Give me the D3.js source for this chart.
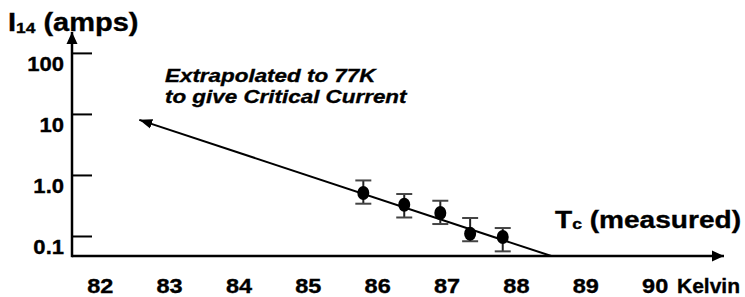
<!DOCTYPE html>
<html>
<head>
<meta charset="utf-8">
<script src="https://cdn.jsdelivr.net/npm/d3@7"></script>
<style>
  body { margin: 0; background: #fff; }
  svg text { font-family: "Liberation Sans", Arial, sans-serif; font-weight: bold; fill: #000;
             stroke: #000; stroke-width: 0.35px; }
</style>
</head>
<body>
<div id="chart"></div>
<script>
"use strict";

// == data ==
var temps     = [85.80, 86.39, 86.91, 87.34, 87.81];   // Kelvin
var currents  = [0.505, 0.325, 0.238, 0.109, 0.096];   // amps
var errLow    = [0.338, 0.201, 0.157, 0.082, 0.056];
var errHigh   = [0.813, 0.487, 0.378, 0.197, 0.135];
var fitTemps  = [82.57, 88.51];                          // extrapolated line ends
var fitAmps   = [8.0, 0.047];
var xTicks    = [82, 83, 84, 85, 86, 87, 88, 89, 90];
var yTicks    = [0.1, 1, 10, 100];
var yTickText = ["0.1", "1.0", "10", "100"];

var width = 745, height = 297;

var svg = d3.select("#chart")
            .append("svg")
            .attr("width", width)
            .attr("height", height);

// == scales ==
var xScale = d3.scaleLinear()
               .domain([81.6, 91])
               .range([72, 724]);

var yScale = d3.scaleLog()
               .domain([0.047, 220])
               .range([256, 32]);

// == arrow heads ==
var defs = svg.append("defs");
defs.append("marker")
    .attr("id", "arrow")
    .attr("viewBox", "0 0 12 12")
    .attr("refX", 12).attr("refY", 6)
    .attr("markerWidth", 12).attr("markerHeight", 12)
    .attr("markerUnits", "userSpaceOnUse")
    .attr("orient", "auto-start-reverse")
    .append("path")
    .attr("d", "M0,0.5 L12,6 L0,11.5 Z")
    .attr("fill", "#000");

defs.append("marker")
    .attr("id", "arrowSmall")
    .attr("viewBox", "0 0 12 12")
    .attr("refX", 12).attr("refY", 6)
    .attr("markerWidth", 13).attr("markerHeight", 13)
    .attr("markerUnits", "userSpaceOnUse")
    .attr("orient", "auto-start-reverse")
    .append("path")
    .attr("d", "M0,1.5 L12,6 L0,10.5 Z")
    .attr("fill", "#000");

var x0 = xScale.domain()[0], x1 = xScale.domain()[1];
var y0 = yScale.domain()[0], y1 = yScale.domain()[1];

// == axis lines with arrows ==
svg.append("line")
   .attr("x1", xScale(x0)).attr("y1", yScale(y0))
   .attr("x2", xScale(x1)).attr("y2", yScale(y0))
   .attr("stroke", "#000").attr("stroke-width", 2.5)
   .attr("marker-end", "url(#arrow)");

svg.append("line")
   .attr("x1", xScale(x0)).attr("y1", yScale(y0) + 1.2)
   .attr("x2", xScale(x0)).attr("y2", yScale(y1))
   .attr("stroke", "#000").attr("stroke-width", 2.5)
   .attr("marker-end", "url(#arrow)");

// == y tick marks ==
var yTickAxis = d3.axisRight(yScale)
                  .tickValues(yTicks)
                  .tickFormat("")
                  .tickSizeInner(20)
                  .tickSizeOuter(0);

var gTicks = svg.append("g")
   .attr("transform", "translate(" + xScale(x0) + ",0)")
   .call(yTickAxis);
gTicks.select(".domain").remove();
gTicks.selectAll("line").attr("stroke", "#000").attr("stroke-width", 2);

// == y labels (sit a little below their ticks) ==
var yLabelAxis = d3.axisLeft(yScale)
                   .tickValues(yTicks)
                   .tickFormat(function (d, i) { return yTickText[i]; })
                   .tickSize(0)
                   .tickPadding(8);

var gYLab = svg.append("g")
   .attr("transform", "translate(" + xScale(x0) + ",11)")
   .call(yLabelAxis);
gYLab.select(".domain").remove();
gYLab.selectAll("text")
     .attr("font-size", 21)
     .attr("font-family", null)
     .attr("x", -8 / 1.05)
     .attr("transform", "scale(1.05,1)");

// == x labels ==
var xLabelAxis = d3.axisBottom(xScale)
                   .tickValues(xTicks)
                   .tickFormat(d3.format("d"))
                   .tickSize(0)
                   .tickPadding(22);

var gXLab = svg.append("g")
   .attr("transform", "translate(0," + yScale(y0) + ")")
   .call(xLabelAxis);
gXLab.select(".domain").remove();
gXLab.selectAll("text")
     .attr("font-size", 21)
     .attr("font-family", null)
     .attr("transform", "scale(1.12,1)");

svg.append("text")
   .attr("x", 677).attr("y", 293)
   .attr("font-size", 21)
   .text("Kelvin");

// == extrapolated fit line ==
svg.append("line")
   .attr("x1", xScale(fitTemps[1])).attr("y1", yScale(fitAmps[1]))
   .attr("x2", xScale(fitTemps[0])).attr("y2", yScale(fitAmps[0]))
   .attr("stroke", "#000").attr("stroke-width", 2)
   .attr("marker-end", "url(#arrowSmall)");

// == error bars ==
var points = d3.range(temps.length);

var bars = svg.selectAll(".err")
   .data(points)
   .enter()
   .append("g")
   .attr("class", "err")
   .attr("stroke", "#222")
   .attr("stroke-width", 2);

bars.append("line")
   .attr("x1", function (i) { return xScale(temps[i]); })
   .attr("x2", function (i) { return xScale(temps[i]); })
   .attr("y1", function (i) { return yScale(errLow[i]); })
   .attr("y2", function (i) { return yScale(errHigh[i]); });

[errLow, errHigh].forEach(function (arr) {
  bars.append("line")
     .attr("x1", function (i) { return xScale(temps[i]) - 8; })
     .attr("x2", function (i) { return xScale(temps[i]) + 8; })
     .attr("y1", function (i) { return yScale(arr[i]); })
     .attr("y2", function (i) { return yScale(arr[i]); })
     .attr("stroke", "#444");
});

// == data points ==
svg.selectAll(".dot")
   .data(points)
   .enter()
   .append("ellipse")
   .attr("class", "dot")
   .attr("cx", function (i) { return xScale(temps[i]); })
   .attr("cy", function (i) { return yScale(currents[i]); })
   .attr("rx", 6)
   .attr("ry", 7)
   .attr("fill", "#000");

// == titles ==
var yTitle = svg.append("text")
   .attr("transform", "translate(8,31) scale(1.16,1)")
   .attr("font-size", 25);
yTitle.append("tspan").text("I");
yTitle.append("tspan").attr("font-size", 15).attr("dy", 2).text("14");
yTitle.append("tspan").attr("dy", -2).text(" (amps)");

var xTitle = svg.append("text")
   .attr("transform", "translate(555,228) scale(1.17,1)")
   .attr("font-size", 24);
xTitle.append("tspan").text("T");
xTitle.append("tspan").attr("font-size", 15).attr("dy", 1).text("c");
xTitle.append("tspan").attr("dy", -1).text(" (measured)");

// == annotation ==
var note = svg.append("text")
   .attr("transform", "translate(165,0) scale(1.18,1)")
   .attr("font-size", 19)
   .attr("font-style", "italic");
note.append("tspan").attr("x", 0).attr("y", 82).text("Extrapolated to 77K");
note.append("tspan").attr("x", 0).attr("y", 103).text("to give Critical Current");
</script>
</body>
</html>
